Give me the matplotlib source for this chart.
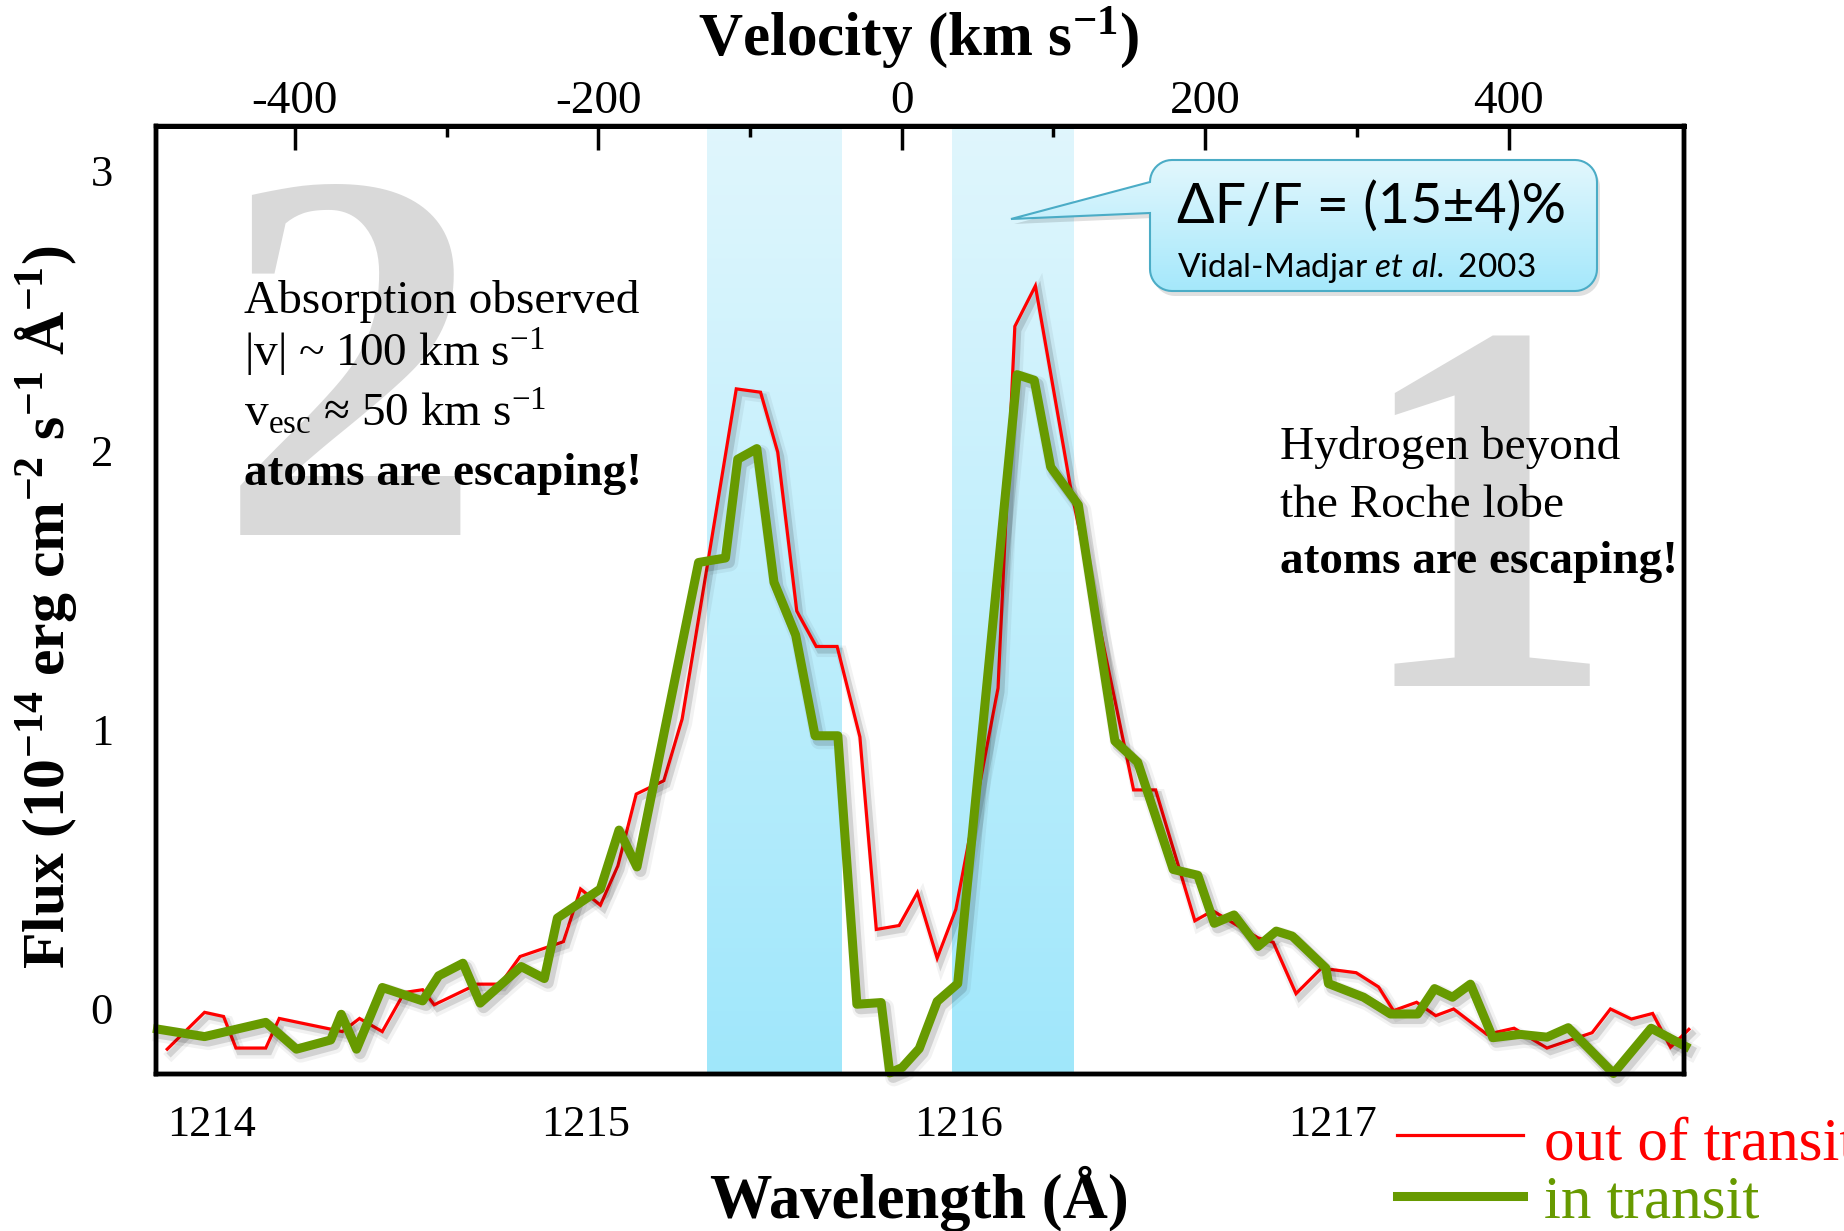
import numpy as np
import matplotlib
matplotlib.use("Agg")
import matplotlib.pyplot as plt
from matplotlib import patheffects as pe
from matplotlib.patches import Polygon

# ---- data ----
wl_out = [1213.880, 1213.980, 1214.031, 1214.064, 1214.144, 1214.180, 1214.349, 1214.395,
          1214.456, 1214.515, 1214.564, 1214.595, 1214.710, 1214.772, 1214.825, 1214.941,
          1214.987, 1215.040, 1215.087, 1215.136, 1215.210, 1215.259, 1215.404, 1215.469,
          1215.515, 1215.566, 1215.618, 1215.674, 1215.735, 1215.779, 1215.840, 1215.889,
          1215.942, 1215.992, 1216.105, 1216.150, 1216.205, 1216.300, 1216.468, 1216.527,
          1216.632, 1216.680, 1216.801, 1216.842, 1216.903, 1216.971, 1217.064, 1217.124,
          1217.164, 1217.226, 1217.277, 1217.325, 1217.414, 1217.487, 1217.575, 1217.696,
          1217.745, 1217.801, 1217.858, 1217.906, 1217.955]
flux_out = [-0.147, -0.015, -0.030, -0.143, -0.143, -0.037, -0.084, -0.037,
            -0.084, 0.056, 0.066, 0.012, 0.086, 0.086, 0.185, 0.238,
            0.427, 0.369, 0.510, 0.767, 0.815, 1.036, 2.219, 2.207,
            1.992, 1.423, 1.296, 1.296, 0.972, 0.282, 0.296, 0.414,
            0.179, 0.354, 1.147, 2.443, 2.588, 1.860, 0.782, 0.782,
            0.313, 0.349, 0.252, 0.236, 0.052, 0.143, 0.127, 0.076,
            -0.009, 0.021, -0.027, -0.003, -0.094, -0.072, -0.143, -0.088,
            -0.003, -0.039, -0.019, -0.140, -0.076]

wl_in = [1213.854, 1213.980, 1214.144, 1214.226, 1214.318, 1214.346, 1214.387, 1214.456,
         1214.564, 1214.607, 1214.672, 1214.718, 1214.828, 1214.890, 1214.925, 1215.040,
         1215.090, 1215.138, 1215.303, 1215.375, 1215.408, 1215.459, 1215.505, 1215.563,
         1215.615, 1215.676, 1215.727, 1215.792, 1215.815, 1215.848, 1215.894, 1215.942,
         1215.997, 1216.156, 1216.202, 1216.246, 1216.320, 1216.418, 1216.479, 1216.574,
         1216.640, 1216.684, 1216.737, 1216.801, 1216.850, 1216.893, 1216.983, 1216.990,
         1217.084, 1217.156, 1217.229, 1217.274, 1217.322, 1217.370, 1217.430, 1217.503,
         1217.575, 1217.632, 1217.753, 1217.854, 1217.946]
flux_in = [-0.075, -0.102, -0.051, -0.147, -0.114, -0.022, -0.147, 0.074,
           0.026, 0.116, 0.161, 0.018, 0.149, 0.106, 0.323, 0.427,
           0.638, 0.506, 1.597, 1.613, 1.967, 2.005, 1.526, 1.337,
           0.976, 0.976, 0.014, 0.020, -0.232, -0.213, -0.145, 0.024,
           0.088, 2.270, 2.250, 1.939, 1.803, 0.957, 0.881, 0.497,
           0.476, 0.304, 0.334, 0.221, 0.276, 0.258, 0.143, 0.088,
           0.039, -0.021, -0.021, 0.070, 0.039, 0.086, -0.106, -0.094,
           -0.104, -0.070, -0.234, -0.072, -0.137]

bands = [(1215.325, 1215.686), (1215.981, 1216.306)]
wl_ticks = [1214, 1215, 1216, 1217]
flux_ticks = [0, 1, 2, 3]
vel_major = [-400, -200, 0, 200, 400]
vel_minor = [-300, -100, 100, 300]
lam_zero = 1215.847      # wavelength where the velocity scale reads 0
kms_per_A = 246.1

red = '#ff0000'
green = '#679a00'

plt.rcParams['font.family'] = 'Liberation Serif'
plt.rcParams['mathtext.fontset'] = 'custom'
plt.rcParams['mathtext.rm'] = 'Liberation Serif'
plt.rcParams['mathtext.bf'] = 'Liberation Serif:bold'
plt.rcParams['mathtext.it'] = 'Lato:italic'

W, H = 1844, 1231
fig = plt.figure(figsize=(W / 100, H / 100), dpi=100, facecolor='white')
x0, x1, y0, y1 = 156, 1684, 126, 1074
ax = fig.add_axes([x0 / W, 1 - y1 / H, (x1 - x0) / W, (y1 - y0) / H])

xmin, xmax = 1213.850, 1217.942
ymin, ymax = -0.236, 3.161

# shaded bands with a vertical gradient
g = np.linspace(0, 1, 256)[:, None, None]
top_c = np.array([0.878, 0.965, 0.992])
bot_c = np.array([0.627, 0.906, 0.984])
band_img = top_c + (bot_c - top_c) * g
for a, b in bands:
    ax.imshow(band_img, extent=(a, b, ymin, ymax), aspect='auto', origin='upper',
              interpolation='bilinear', zorder=0.5)


def shadow(lw):
    return [pe.Stroke(offset=(3, -3.5), linewidth=lw + 6, foreground='black', alpha=0.05),
            pe.Stroke(offset=(2.5, -3), linewidth=lw + 2, foreground='black', alpha=0.13),
            pe.Normal()]


ax.plot(wl_out, flux_out, color=red, lw=2.3, clip_on=False, zorder=3,
        solid_joinstyle='miter', path_effects=shadow(2.3))
ax.plot(wl_in, flux_in, color=green, lw=6.5, clip_on=False, zorder=4,
        solid_joinstyle='round', path_effects=shadow(6.5))

ax.set_xlim(xmin, xmax)
ax.set_ylim(ymin, ymax)
ax.set_xticks(wl_ticks, labels=[str(t) for t in wl_ticks])
ax.set_yticks(flux_ticks, labels=[str(t) for t in flux_ticks])
ax.tick_params(axis='x', length=0, labelsize=32, pad=22)
ax.tick_params(axis='y', length=0, labelsize=32, pad=31)
for s in ax.spines.values():
    s.set_linewidth(3.2)

# velocity scale on top
tw = ax.twiny()
tw.set_xlim((xmin - lam_zero) * kms_per_A, (xmax - lam_zero) * kms_per_A)
tw.set_xticks(vel_major, labels=[str(v) for v in vel_major])
tw.set_xticks(vel_minor, minor=True)
tw.tick_params(which='major', direction='in', length=17, width=2.5, labelsize=34, pad=2)
tw.tick_params(which='minor', direction='in', length=8, width=2.5)
for s in tw.spines.values():
    s.set_linewidth(3.2)
tw.spines['top'].set_linewidth(3.6)

ax.set_xlabel('Wavelength (Å)', fontsize=45, fontweight='bold')
ax.xaxis.set_label_coords(0.4993, -0.152)
ax.xaxis.label.set_va('baseline')
tw.set_xlabel('Velocity (km s$^{\\mathregular{-1}}$)', fontsize=44, fontweight='bold')
tw.xaxis.set_label_coords(0.4993, 1.075, transform=ax.transAxes)
tw.xaxis.label.set_va('baseline')
ax.set_ylabel('Flux (10$^{\\mathregular{-14}}$ erg cm$^{\\mathregular{-2}}$ '
              's$^{\\mathregular{-1}}$ Å$^{\\mathregular{-1}}$)', fontsize=43, fontweight='bold')
ax.yaxis.set_label_coords(-0.0713, 0.4926)
ax.yaxis.label.set_va('center')

# ---- overlay in pixel coordinates for the slide annotations ----
ov = fig.add_axes([0, 0, 1, 1], zorder=5)
ov.set_axis_off()

ov.text(350, 535, '2', fontsize=382, fontweight='bold', color='#d9d9d9',
        ha='center', va='baseline', zorder=1)
ov.text(1484, 686, '1', fontsize=382, fontweight='bold', color='#d9d9d9',
        ha='center', va='baseline', zorder=1)

left_lines = ['Absorption observed',
              '|v| ~ 100 km s$^{\\mathregular{-1}}$',
              'v$_{\\mathregular{esc}}$ ≈ 50 km s$^{\\mathregular{-1}}$']
for txt, yb in zip(left_lines, [313, 367, 427]):
    ov.text(244, yb, txt, fontsize=34, va='baseline', zorder=3)
ov.text(244, 485, 'atoms are escaping!', fontsize=34, fontweight='bold', va='baseline', zorder=3)

ov.text(1280, 459, 'Hydrogen beyond', fontsize=34, va='baseline', zorder=3)
ov.text(1280, 517, 'the Roche lobe', fontsize=34, va='baseline', zorder=3)
ov.text(1280, 573, 'atoms are escaping!', fontsize=34, fontweight='bold', va='baseline', zorder=3)

# callout box
bx0, bx1, by0, by1, r = 1150, 1597, 160, 291, 22


def arc(cx, cy, a0, a1):
    t = np.radians(np.linspace(a0, a1, 12))
    return list(zip(cx + r * np.cos(t), cy + r * np.sin(t)))


verts = [(bx0, by0 + r), (1011, 219), (bx0, 213)]
verts += arc(bx0 + r, by1 - r, 180, 90)
verts += arc(bx1 - r, by1 - r, 90, 0)
verts += arc(bx1 - r, by0 + r, 0, -90)
verts += arc(bx0 + r, by0 + r, -90, -180)
verts = np.array(verts)

ov.add_patch(Polygon(verts + [3, 5], closed=True, facecolor='black', edgecolor='none',
                     alpha=0.12, zorder=2))
clip = Polygon(verts, closed=True, facecolor='none', edgecolor='none', zorder=2)
ov.add_patch(clip)
box_top = np.array([0.886, 0.969, 0.992])
box_bot = np.array([0.647, 0.910, 0.984])
box_img = box_top + (box_bot - box_top) * g
im = ov.imshow(box_img, extent=(1011, bx1, by1, by0), aspect='auto', origin='upper',
               interpolation='bilinear', zorder=2.1)
im.set_clip_path(clip)
ov.add_patch(Polygon(verts, closed=True, facecolor='none', edgecolor='#4bacc6',
                     lw=1.5, zorder=2.2))
ov.text(1177, 223, 'ΔF/F = (15±4)%', family='Lato', fontsize=40, va='baseline', zorder=3)
ov.text(1177, 277, 'Vidal-Madjar $\\mathit{et\\ al.}$ 2003', family='Lato', fontsize=24,
        va='baseline', zorder=3)

# legend
ov.plot([1397, 1523], [1135, 1135], color=red, lw=2.3, zorder=3)
ov.plot([1397, 1523], [1196, 1196], color=green, lw=6.5, zorder=3)
ov.text(1544, 1159, 'out of transit', fontsize=44, color=red, va='baseline', zorder=3)
ov.text(1544, 1218, 'in transit', fontsize=44, color=green, va='baseline', zorder=3)

ov.set_xlim(0, W)
ov.set_ylim(H, 0)

fig.savefig('out.png', dpi=100, facecolor='white')
